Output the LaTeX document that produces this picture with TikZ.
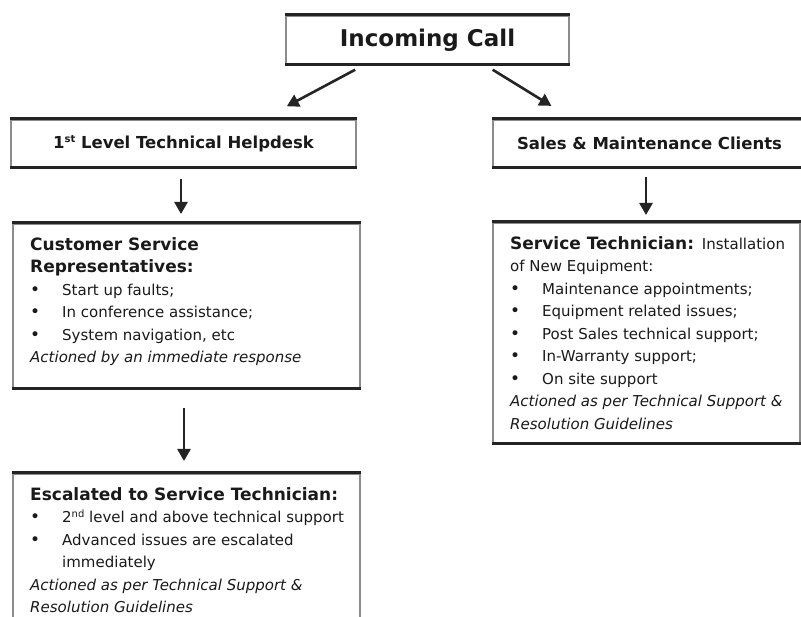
\documentclass[tikz,border=0pt]{standalone}
\usepackage{fontspec}
\setmainfont{DejaVu Sans}
\usetikzlibrary{arrows.meta}

\definecolor{ink}{HTML}{1A1A1A}
\definecolor{rule}{HTML}{242424}
\definecolor{side}{HTML}{8C8C8C}

% type sizes: headings, body, notes
\newcommand\hd{\fontsize{17}{22.5}\selectfont\bfseries\upshape}
\newcommand\rg{\fontsize{15}{22.5}\selectfont\mdseries\upshape}
\newcommand\itl{\fontsize{15}{22.5}\selectfont\mdseries\itshape}
\newcommand\sups[2][5.5pt]{\raisebox{#1}{\fontsize{10}{10}\selectfont #2}}
% bullet entry with hanging indent
\newcommand\itm[1]{\par\noindent\hangindent=32pt\hangafter=1\makebox[32pt][l]{\fontsize{17}{22.5}\selectfont\textbullet}#1\par}

\tikzset{
  frame/.style={rectangle, draw=side, line width=2pt, inner sep=0pt,
                anchor=north west, fill=white, text=ink},
  edge/.style={draw=rule, line width=3pt},
  textblock/.style={inner sep=0pt, anchor=north west, text=ink},
  flow/.style={draw=rule, line width=2.6pt, -{Triangle[length=12pt,width=13pt]}},
}

\begin{document}
\begin{tikzpicture}[x=1pt,y=-1pt]
\useasboundingbox (0,0) rectangle (801,617);
\fill[white] (0,0) rectangle (801,617);

% boxes
\node[frame, minimum width=283pt, minimum height=48pt,
      font=\fontsize{23}{23}\selectfont\bfseries] (call) at (285,15) {Incoming Call};
\node[frame, minimum width=345pt, minimum height=47pt,
      font=\fontsize{16.5}{16.5}\selectfont\bfseries] (help) at (10,119)
      {1\sups{st} Level Technical Helpdesk};
\node[frame, minimum width=313pt, minimum height=47pt,
      font=\fontsize{16.5}{16.5}\selectfont\bfseries] (sales) at (492,119)
      {Sales \& Maintenance Clients\hspace{10pt}};
\node[frame, minimum width=347pt, minimum height=164pt] (csr) at (12,223) {};
\node[frame, minimum width=307pt, minimum height=220pt] (svc) at (492,222) {};
\node[frame, minimum width=347pt, minimum height=170pt] (esc) at (12,473) {};

% heavy top and bottom rules of each box
\foreach \b in {call,help,sales,csr,svc,esc}{
  \draw[edge] (\b.north west) -- (\b.north east);
  \draw[edge] (\b.south west) -- (\b.south east);
}

% box contents
\node[textblock] (csrText) at ([xshift=18pt,yshift=-11.5pt]csr.north west)
 {\begin{minipage}[t]{320pt}\lineskiplimit=-100pt
  \hd\strut Customer Service\par
  Representatives:\par
  \rg
  \itm{Start up faults;}
  \itm{In conference assistance;}
  \itm{System navigation, etc}
  \itl Actioned by an immediate response\par
  \end{minipage}};

\node[textblock] (svcText) at ([xshift=18pt,yshift=-11.5pt]svc.north west)
 {\begin{minipage}[t]{288pt}\lineskiplimit=-100pt
  \hd\strut Service Technician: {\rg Installation}\par
  \rg of New Equipment:\par
  \itm{Maintenance appointments;}
  \itm{Equipment related issues;}
  \itm{Post Sales technical support;}
  \itm{In-Warranty support;}
  \itm{On site support}
  \itl Actioned as per Technical Support \&\newline Resolution Guidelines\par
  \end{minipage}};

\node[textblock] (escText) at ([xshift=18pt,yshift=-11.5pt]esc.north west)
 {\begin{minipage}[t]{330pt}\lineskiplimit=-100pt
  \hd\strut Escalated to Service Technician:\par
  \rg
  \itm{2\sups[5pt]{nd} level and above technical support}
  \itm{Advanced issues are escalated\newline immediately}
  \itl Actioned as per Technical Support \&\newline Resolution Guidelines\par
  \end{minipage}};

% connectors
\draw[flow, shorten <=10pt, shorten >=27pt]
  ([xshift=79pt]call.south west) -- ([xshift=253pt]help.north west);
\draw[flow, shorten <=9pt, shorten >=25pt]
  ([xshift=200pt]call.south west) -- ([xshift=80.7pt]sales.north west);
\draw[flow, shorten <=11pt, shorten >=9pt]
  ([xshift=-2.5pt]help.south) -- ([xshift=-2.5pt]help.south |- csr.north);
\draw[flow, shorten <=9pt, shorten >=7pt]
  ([xshift=-3.5pt]sales.south) -- ([xshift=-3.5pt]sales.south |- svc.north);
\draw[flow, shorten <=19pt, shorten >=12pt]
  ([xshift=-2.5pt]csr.south) -- ([xshift=-2.5pt]csr.south |- esc.north);
\end{tikzpicture}
\end{document}
